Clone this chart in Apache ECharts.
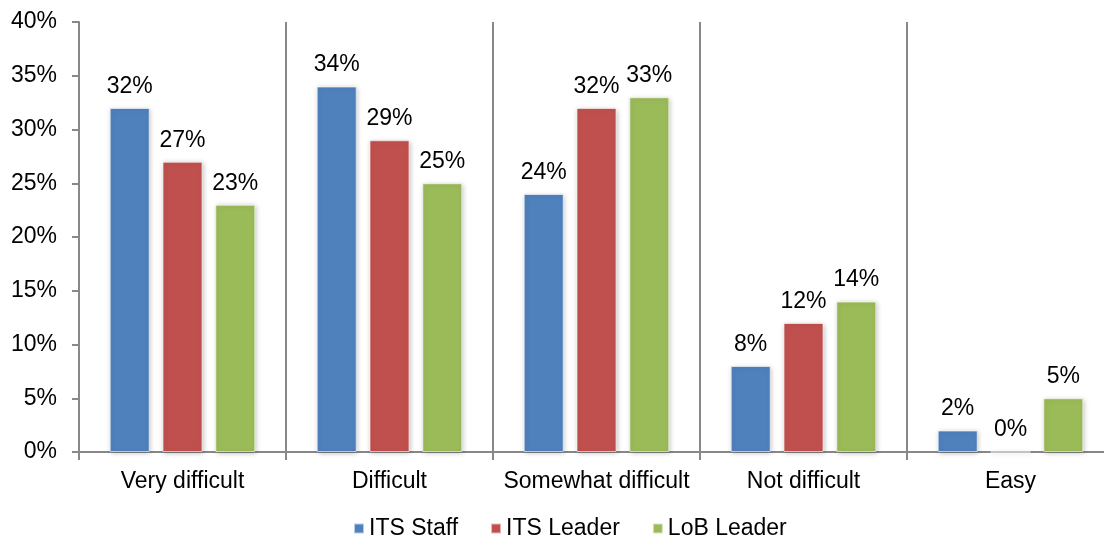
<!DOCTYPE html>
<html>
<head>
<meta charset="utf-8">
<script src="https://cdn.jsdelivr.net/npm/echarts@6/dist/echarts.min.js"></script>
<style>
  html, body { margin: 0; padding: 0; background: #fff; overflow: hidden; }
  #main { width: 1114px; height: 539px; }
</style>
</head>
<body>
<div id="main"></div>
<script>
var categories = ['Very difficult', 'Difficult', 'Somewhat difficult', 'Not difficult', 'Easy'];
var itsStaff = [32, 34, 24, 8, 2];
var itsLeader = [27, 29, 32, 12, 0];
var lobLeader = [23, 25, 33, 14, 5];
var yTicks = [0, 5, 10, 15, 20, 25, 30, 35, 40];

// plot runs a little past the right edge, as in the original
var myChart = echarts.init(document.getElementById('main'));

var font = 'Liberation Sans, Arial, sans-serif';
var fs = 23;

function makeSeries(name, data, color) {
    return {
        name: name,
        type: 'bar',
        data: data,
        barWidth: 40,
        barGap: '32%',
        itemStyle: {
            color: color,
            borderColor: 'rgba(255,255,255,0.6)',
            borderWidth: 1,
            shadowColor: 'rgba(0,0,0,0.25)',
            shadowBlur: 5,
            shadowOffsetX: 1,
            shadowOffsetY: 1
        },
        label: {
            show: true,
            position: 'top',
            distance: 10,
            formatter: '{c}%',
            color: '#000',
            fontSize: fs,
            fontFamily: font
        }
    };
}

var option = {
    animation: false,
    backgroundColor: '#fff',
    grid: { left: 79, top: 22, right: 0, bottom: 87 },
    legend: {
        bottom: -6,
        left: 348,
        itemWidth: 10,
        itemHeight: 10,
        itemGap: 32,
        icon: 'rect',
        textStyle: { fontSize: fs, fontFamily: font, color: '#000' },
        data: ['ITS Staff', 'ITS Leader', 'LoB Leader']
    },
    xAxis: {
        type: 'category',
        data: categories,
        axisLine: { lineStyle: { color: '#888', width: 2 } },
        axisTick: { show: true, interval: 0, length: 8, lineStyle: { color: '#888', width: 2 } },
        splitLine: { show: true, interval: 0, lineStyle: { color: '#888', width: 2 } },
        axisLabel: { interval: 0, color: '#000', fontSize: fs, fontFamily: font, margin: 18 }
    },
    yAxis: {
        type: 'value',
        min: yTicks[0],
        max: yTicks[yTicks.length - 1],
        interval: 5,
        axisLine: { show: true, lineStyle: { color: '#888', width: 2 } },
        axisTick: { show: true, length: 7, lineStyle: { color: '#888', width: 2 } },
        splitLine: { show: false },
        axisLabel: { formatter: '{value}%', color: '#000', fontSize: fs, fontFamily: font, margin: 22 }
    },
    series: [
        makeSeries('ITS Staff', itsStaff, '#4F81BD'),
        makeSeries('ITS Leader', itsLeader, '#C0504D'),
        makeSeries('LoB Leader', lobLeader, '#9BBB59')
    ]
};

myChart.setOption(option);
</script>
</body>
</html>
